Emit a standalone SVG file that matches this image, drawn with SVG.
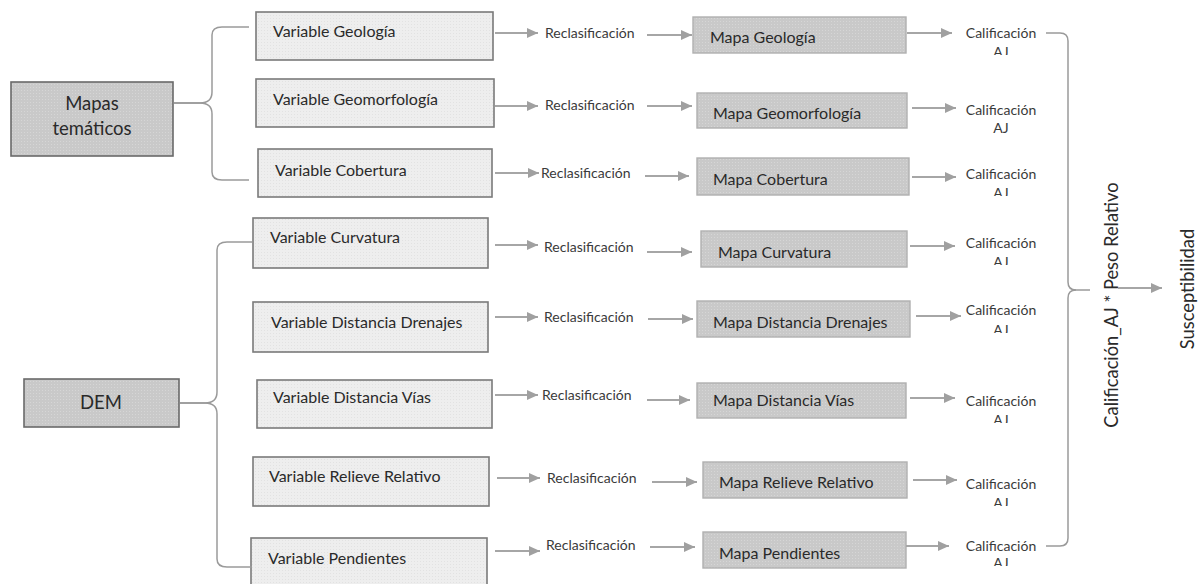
<svg xmlns="http://www.w3.org/2000/svg" width="1203" height="584" viewBox="0 0 1203 584">
  <style>
    .var { fill: url(#dotsLight); stroke: #7a7a7a; stroke-width: 1.6; }
    .map { fill: url(#dotsDark); stroke: #b0b0b0; stroke-width: 1.4; }
    .src { fill: url(#dotsDark); stroke: #6a6a6a; stroke-width: 1.6; }
    .lbl { font-family: Lato, "Liberation Sans", sans-serif; font-size: 16px; fill: #2a2a2a; }
    .mlbl { font-family: Lato, "Liberation Sans", sans-serif; font-size: 16px; fill: #2a2a2a; }
    .big { font-family: Lato, "Liberation Sans", sans-serif; font-size: 18.5px; fill: #2a2a2a; }
    .small { font-family: Lato, "Liberation Sans", sans-serif; font-size: 14px; fill: #3a3a3a; }
    .vert { font-family: Lato, "Liberation Sans", sans-serif; font-size: 18.3px; fill: #2a2a2a; }
    .arrow { stroke: #a6a6a6; stroke-width: 2; fill: none; marker-end: url(#head); }
    .brace { stroke: #9a9a9a; stroke-width: 1.5; fill: none; }
  </style>
  <defs>
    <pattern id="dotsLight" width="3" height="3" patternUnits="userSpaceOnUse">
      <rect width="3" height="3" fill="#eeeeee"/>
      <rect width="1" height="1" fill="#e2e2e2"/>
    </pattern>
    <pattern id="dotsDark" width="3" height="3" patternUnits="userSpaceOnUse">
      <rect width="3" height="3" fill="#c9c9c9"/>
      <rect width="1" height="1" fill="#d6d6d6"/>
    </pattern>
    <marker id="head" markerUnits="userSpaceOnUse" markerWidth="13" markerHeight="13" viewBox="0 0 13 13" refX="12" refY="6.5" orient="auto">
      <path d="M1,1.5 L12,6.5 L1,11.5 Z" fill="#a0a0a0"/>
    </marker>
    <!-- second lines of the rating labels are cut off at the bottom -->
    <clipPath id="c1"><rect x="980" y="43" width="40" height="12"/></clipPath>
    <clipPath id="c3"><rect x="980" y="184" width="40" height="12"/></clipPath>
    <clipPath id="c4"><rect x="980" y="253" width="40" height="12"/></clipPath>
    <clipPath id="c5"><rect x="980" y="321" width="40" height="12"/></clipPath>
    <clipPath id="c6"><rect x="980" y="411" width="40" height="12"/></clipPath>
    <clipPath id="c7"><rect x="980" y="494" width="40" height="12"/></clipPath>
    <clipPath id="c8"><rect x="980" y="554" width="40" height="12"/></clipPath>
  </defs>

  <!-- source groups -->
  <g id="mapas-tematicos">
    <rect class="src" x="11" y="82" width="162" height="74"/>
    <text class="big" x="92" y="110" text-anchor="middle">Mapas</text>
    <text class="big" x="92" y="135" text-anchor="middle">temáticos</text>
  </g>
  <g id="dem">
    <rect class="src" x="24" y="379" width="155" height="48"/>
    <text class="big" x="101" y="409" text-anchor="middle">DEM</text>
  </g>

  <!-- input variables -->
  <g id="var-geologia"><rect class="var" x="256" y="12" width="237" height="48"/><text class="lbl" x="273" y="37">Variable Geología</text></g>
  <g id="var-geomorfologia"><rect class="var" x="256" y="79" width="238" height="48"/><text class="lbl" x="273" y="105">Variable Geomorfología</text></g>
  <g id="var-cobertura"><rect class="var" x="258" y="149" width="234" height="48"/><text class="lbl" x="275" y="176">Variable Cobertura</text></g>
  <g id="var-curvatura"><rect class="var" x="253" y="218" width="235" height="50"/><text class="lbl" x="270" y="243">Variable Curvatura</text></g>
  <g id="var-drenajes"><rect class="var" x="253" y="302" width="235" height="50"/><text class="lbl" x="271" y="328">Variable Distancia Drenajes</text></g>
  <g id="var-vias"><rect class="var" x="257" y="380" width="235" height="48"/><text class="lbl" x="273" y="403">Variable Distancia Vías</text></g>
  <g id="var-relieve"><rect class="var" x="253" y="457" width="236" height="49"/><text class="lbl" x="269" y="482">Variable Relieve Relativo</text></g>
  <g id="var-pendientes"><rect class="var" x="251" y="538" width="236" height="50"/><text class="lbl" x="268" y="564">Variable Pendientes</text></g>

  <!-- reclassification steps -->
  <g id="reclas">
    <text class="small" x="545" y="38">Reclasificación</text>
    <text class="small" x="545" y="110">Reclasificación</text>
    <text class="small" x="541" y="178">Reclasificación</text>
    <text class="small" x="544" y="252">Reclasificación</text>
    <text class="small" x="544" y="322">Reclasificación</text>
    <text class="small" x="542" y="400">Reclasificación</text>
    <text class="small" x="547" y="483">Reclasificación</text>
    <text class="small" x="546" y="550">Reclasificación</text>
  </g>

  <!-- reclassified maps -->
  <g id="mapa-geologia"><rect class="map" x="693" y="17" width="213" height="36"/><text class="mlbl" x="710" y="43">Mapa Geología</text></g>
  <g id="mapa-geomorfologia"><rect class="map" x="697" y="93" width="210" height="35"/><text class="mlbl" x="713" y="119">Mapa Geomorfología</text></g>
  <g id="mapa-cobertura"><rect class="map" x="697" y="158" width="212" height="37"/><text class="mlbl" x="713" y="185">Mapa Cobertura</text></g>
  <g id="mapa-curvatura"><rect class="map" x="701" y="231" width="206" height="36"/><text class="mlbl" x="718" y="258">Mapa Curvatura</text></g>
  <g id="mapa-drenajes"><rect class="map" x="697" y="301" width="213" height="36"/><text class="mlbl" x="713" y="328">Mapa Distancia Drenajes</text></g>
  <g id="mapa-vias"><rect class="map" x="697" y="383" width="209" height="35"/><text class="mlbl" x="713" y="406">Mapa Distancia Vías</text></g>
  <g id="mapa-relieve"><rect class="map" x="703" y="462" width="204" height="36"/><text class="mlbl" x="719" y="488">Mapa Relieve Relativo</text></g>
  <g id="mapa-pendientes"><rect class="map" x="703" y="532" width="203" height="36"/><text class="mlbl" x="719" y="559">Mapa Pendientes</text></g>

  <!-- AJ ratings -->
  <g id="calificacion" text-anchor="middle">
    <text class="small" x="1001" y="38">Calificación</text><text class="small" x="1001" y="57" clip-path="url(#c1)">AJ</text>
    <text class="small" x="1001" y="115">Calificación</text><text class="small" x="1001" y="133">AJ</text>
    <text class="small" x="1001" y="179">Calificación</text><text class="small" x="1001" y="198" clip-path="url(#c3)">AJ</text>
    <text class="small" x="1001" y="248">Calificación</text><text class="small" x="1001" y="267" clip-path="url(#c4)">AJ</text>
    <text class="small" x="1001" y="315">Calificación</text><text class="small" x="1001" y="335" clip-path="url(#c5)">AJ</text>
    <text class="small" x="1001" y="406">Calificación</text><text class="small" x="1001" y="425" clip-path="url(#c6)">AJ</text>
    <text class="small" x="1001" y="489">Calificación</text><text class="small" x="1001" y="508" clip-path="url(#c7)">AJ</text>
    <text class="small" x="1001" y="551">Calificación</text><text class="small" x="1001" y="568" clip-path="url(#c8)">AJ</text>
  </g>

  <!-- weighted overlay and result -->
  <g id="ponderacion">
    <text class="vert" transform="translate(1118,305) rotate(-90)" text-anchor="middle">Calificación_AJ * Peso Relativo</text>
  </g>
  <g id="susceptibilidad">
    <text class="vert" transform="translate(1194,289) rotate(-90)" text-anchor="middle" font-size="18.5">Susceptibilidad</text>
  </g>

  <!-- connectors -->
  <g id="connectors">
    <path class="brace" d="M174,103 H200 Q212,103 212,92 V35 Q212,27 222,27 H249"/>
    <path class="brace" d="M174,103 H200 Q212,103 212,114 V172 Q212,180 222,180 H249"/>
    <path class="brace" d="M180,403 H205 Q217,403 217,392 V250 Q217,242 227,242 H252"/>
    <path class="brace" d="M180,403 H205 Q217,403 217,414 V559 Q217,567 227,567 H252"/>
    <path class="brace" d="M1046,33 H1060 Q1068,33 1068,41 V282 Q1068,290 1076,290 H1090"/>
    <path class="brace" d="M1046,546 H1060 Q1068,546 1068,538 V298 Q1068,290 1076,290"/>

    <line class="arrow" x1="495" y1="33" x2="538" y2="33"/>
    <line class="arrow" x1="495" y1="106" x2="538" y2="106"/>
    <line class="arrow" x1="495" y1="173" x2="539" y2="173"/>
    <line class="arrow" x1="495" y1="245" x2="538" y2="245"/>
    <line class="arrow" x1="495" y1="317" x2="538" y2="317"/>
    <line class="arrow" x1="495" y1="395" x2="538" y2="395"/>
    <line class="arrow" x1="497" y1="478" x2="540" y2="478"/>
    <line class="arrow" x1="495" y1="551" x2="540" y2="551"/>

    <line class="arrow" x1="647" y1="35" x2="692" y2="35"/>
    <line class="arrow" x1="647" y1="106" x2="692" y2="106"/>
    <line class="arrow" x1="645" y1="176" x2="689" y2="176"/>
    <line class="arrow" x1="647" y1="252" x2="692" y2="252"/>
    <line class="arrow" x1="648" y1="319" x2="693" y2="319"/>
    <line class="arrow" x1="647" y1="400" x2="690" y2="400"/>
    <line class="arrow" x1="652" y1="482" x2="697" y2="482"/>
    <line class="arrow" x1="650" y1="547" x2="695" y2="547"/>

    <line class="arrow" x1="907" y1="33" x2="952" y2="33"/>
    <line class="arrow" x1="912" y1="108" x2="956" y2="108"/>
    <line class="arrow" x1="912" y1="177" x2="956" y2="177"/>
    <line class="arrow" x1="910" y1="246" x2="955" y2="246"/>
    <line class="arrow" x1="916" y1="316" x2="961" y2="316"/>
    <line class="arrow" x1="910" y1="398" x2="955" y2="398"/>
    <line class="arrow" x1="913" y1="480" x2="957" y2="480"/>
    <line class="arrow" x1="906" y1="546" x2="949" y2="546"/>

    <line class="arrow" x1="1118" y1="288" x2="1162" y2="288"/>
  </g>
</svg>
